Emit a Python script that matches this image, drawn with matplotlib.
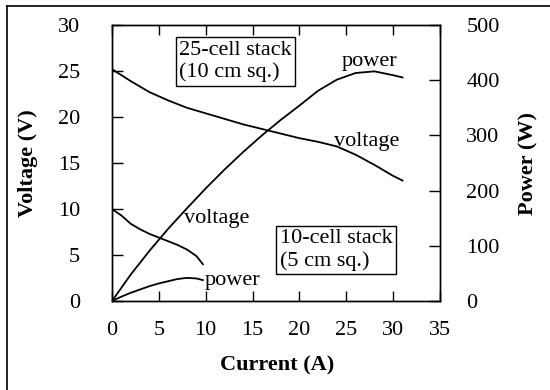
import matplotlib
matplotlib.use("Agg")
import matplotlib.pyplot as plt
from matplotlib.lines import Line2D

plt.rcParams['font.family'] = ['Liberation Serif', 'DejaVu Serif']
plt.rcParams['font.size'] = 16

# 25-cell stack (10 cm sq.)
i25 = [0, 2, 4, 6, 8, 10, 12, 14, 16, 18, 20, 22, 24, 26, 28, 30, 31]
v25 = [25.2, 23.9, 22.7, 21.8, 21.0, 20.4, 19.8, 19.2, 18.7, 18.2, 17.7,
       17.3, 16.8, 15.9, 14.8, 13.6, 13.1]
p25 = [0, 48, 91, 131, 168, 204, 238, 270, 300, 328, 354, 381, 401, 413,
       416, 409, 405]

# 10-cell stack (5 cm sq.)
i10 = [0, 1, 2, 3, 4, 5, 6, 7, 8, 9, 9.7]
v10 = [10.0, 9.3, 8.4, 7.8, 7.3, 6.9, 6.5, 6.1, 5.6, 4.9, 4.0]
p10 = [0, 8, 15, 21, 27, 32, 36, 40, 42, 41, 38]

fig = plt.figure(figsize=(5.5, 3.9), dpi=100)
ax = fig.add_axes([0.2036, 0.228, 0.5964, 0.708])
ax2 = ax.twinx()

ax.plot(i25, v25, color='black', lw=1.3)
ax.plot(i10, v10, color='black', lw=1.3)
ax2.plot(i25, p25, color='black', lw=1.3)
ax2.plot(i10, p10, color='black', lw=1.3)

ax.set_xlim(0, 35)
ax.set_ylim(0, 30)
ax2.set_ylim(0, 500)
ax.set_xticks(range(0, 36, 5))
ax.set_yticks(range(0, 31, 5))
ax2.set_yticks(range(0, 501, 100))

ax.tick_params(axis='y', direction='in', length=8, pad=23, width=1)
ax.tick_params(axis='x', direction='in', length=7, pad=14.5, width=1, top=True)
ax2.tick_params(axis='y', direction='in', length=8, pad=19, width=1)

for a in (ax, ax2):
    for s in a.spines.values():
        s.set_linewidth(1)

ax.set_xlabel('Current (A)', fontweight='bold', va='top')
ax.set_ylabel('Voltage (V)', fontweight='bold')
ax2.set_ylabel('Power (W)', fontweight='bold')
ax.xaxis.set_label_coords(0.503, -0.196)
ax.yaxis.set_label_coords(-0.226, 0.5)
ax2.yaxis.set_label_coords(1.238, 0.5)

box = dict(boxstyle='square,pad=0.15', fc='white', ec='black', lw=1)
ax.text(7.2, 28.3, '25-cell stack\n(10 cm sq.)', ha='left', va='top',
        linespacing=1.2, bbox=box)
ax.text(17.9, 7.8, '10-cell stack\n(5 cm sq.)', ha='left', va='top',
        linespacing=1.2, bbox=box)

ax.text(27.5, 25.5, 'power', ha='center', va='baseline')
ax.text(27.2, 16.85, 'voltage', ha='center', va='baseline')
ax.text(11.2, 8.45, 'voltage', ha='center', va='baseline')
ax.text(12.9, 1.74, 'power', ha='center', va='baseline')

# scanned frame edges
fig.add_artist(Line2D([0.0127, 0.0127], [0, 0.985], color='black', lw=1.2))
fig.add_artist(Line2D([0.0127, 1], [0.985, 0.985], color='black', lw=1.2))

fig.savefig('out.png', dpi=100)
